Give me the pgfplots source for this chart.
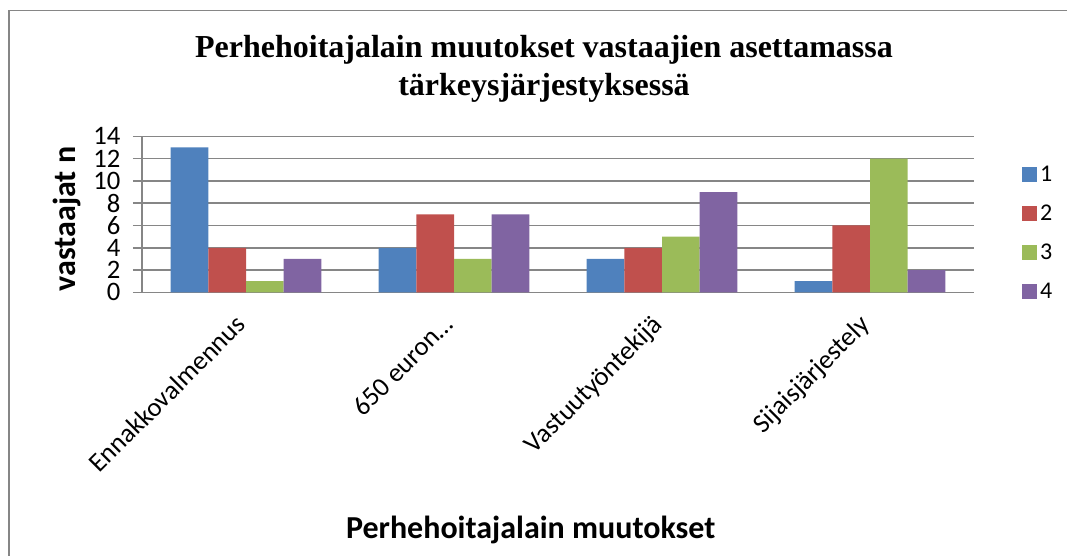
\documentclass[border=0pt]{standalone}
\usepackage{fontspec}
\setmainfont{Carlito}
\newfontfamily\titlefont{Liberation Serif}
\usepackage{pgfplots}
\pgfplotsset{compat=1.18}
\definecolor{s1}{HTML}{4F81BD}
\definecolor{s2}{HTML}{C0504D}
\definecolor{s3}{HTML}{9BBB59}
\definecolor{s4}{HTML}{8064A2}
\definecolor{gridc}{HTML}{868686}
\begin{document}
\begin{tikzpicture}
\path[use as bounding box] (0,0) rectangle (800.25pt,417pt);
\draw[gridc, line width=1.2pt] (6.75pt,-10pt) -- (6.75pt,409pt) -- (810pt,409pt);
\node[font=\titlefont\bfseries\fontsize{24}{28}\selectfont] at (408pt,380pt) {Perhehoitajalain muutokset vastaajien asettamassa};
\node[font=\titlefont\bfseries\fontsize{24}{28}\selectfont] at (408pt,351pt) {tärkeysjärjestyksessä};
\node[font=\bfseries\fontsize{24}{28}\selectfont, rotate=90] at (50pt,252.75pt) {vastaajat n};
\node[font=\bfseries\fontsize{24}{28}\selectfont] at (398pt,19.5pt) {Perhehoitajalain muutokset};
\begin{axis}[
  at={(106.5pt,197.75pt)}, anchor=south west,
  scale only axis, width=624pt, height=117pt,
  ybar=0pt, bar width=0.181,
  xmin=-0.5, xmax=3.5, ymin=0, ymax=14,
  ytick={0,2,...,14},
  xtick={0,1,2,3},
  xticklabels={Ennakkovalmennus,650 euron…,Vastuutyöntekijä,Sijaisjärjestely},
  axis lines*=left,
  axis line style={gridc, line width=1.2pt},
  ymajorgrids, major grid style={gridc, line width=1.2pt},
  ytick style={gridc, line width=1.2pt}, xtick style={draw=none},
  tick align=outside, major tick length=6.75pt,
  /pgf/number format/assume math mode=true,
  yticklabel style={font=\fontsize{20}{20}\selectfont, xshift=-6pt},
  xticklabel style={font=\fontsize{20}{20}\selectfont, xshift=-9pt, yshift=-4pt, rotate=45, anchor=north east},
  legend style={at={(1.053,0.38)}, anchor=west, draw=none, fill=none,
    font=\fontsize{18}{18}\selectfont, row sep=12pt,
    /tikz/every even column/.append style={column sep=2pt}},
  legend cell align=left,
  legend image code/.code={\fill[#1] (0pt,-5.6pt) rectangle (11.25pt,5.6pt);},
]
\addplot[fill=s1, draw=none, bar shift=-0.2715] coordinates {(0,13) (1,4) (2,3) (3,1)};
\addplot[fill=s2, draw=none, bar shift=-0.0905] coordinates {(0,4) (1,7) (2,4) (3,6)};
\addplot[fill=s3, draw=none, bar shift=0.0905] coordinates {(0,1) (1,3) (2,5) (3,12)};
\addplot[fill=s4, draw=none, bar shift=0.2715] coordinates {(0,3) (1,7) (2,9) (3,2)};
\legend{1,2,3,4}
\end{axis}
\end{tikzpicture}
\end{document}
